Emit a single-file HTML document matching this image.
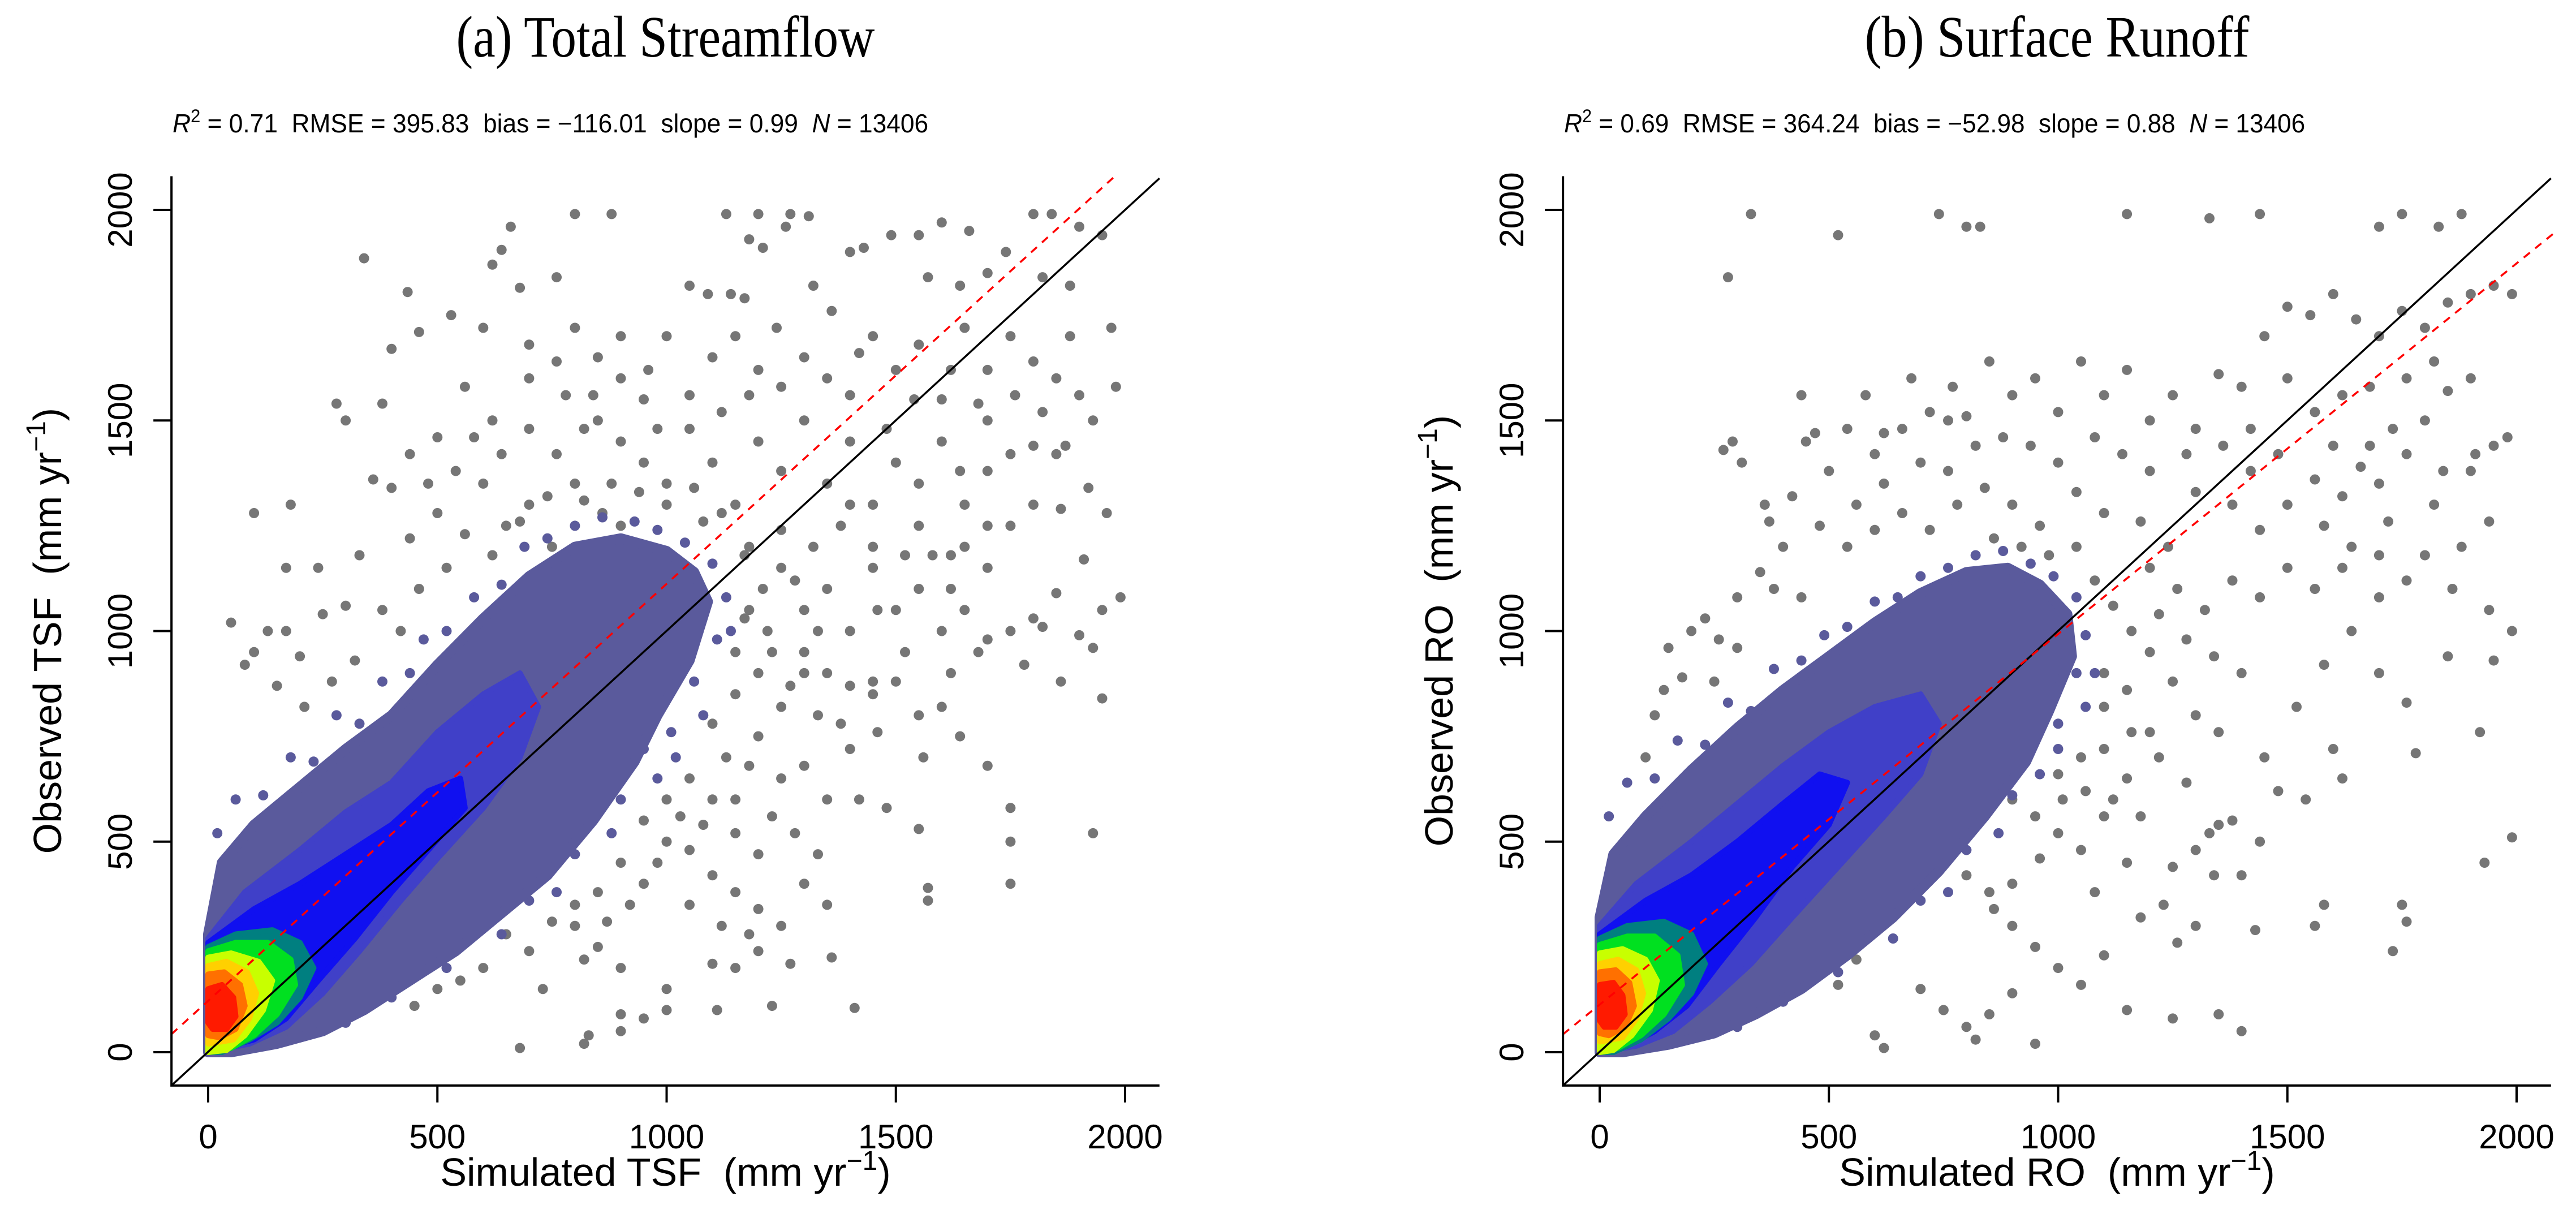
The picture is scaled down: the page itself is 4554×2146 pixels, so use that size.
<!DOCTYPE html>
<html><head><meta charset="utf-8"><style>
html,body{margin:0;padding:0;background:#fff;}
svg{display:block;}
text{font-family:"Liberation Sans",sans-serif;fill:#000;}
.serif{font-family:"Liberation Serif",serif;}
</style></head><body>
<svg id="chart" xmlns="http://www.w3.org/2000/svg" width="4554" height="2146" viewBox="0 0 4554 2146">
<rect width="4554" height="2146" fill="#fff"/>
</svg>
<script>
// ---------- data ----------
const tickValues = [0, 500, 1000, 1500, 2000];
const tickLabels = ["0", "500", "1000", "1500", "2000"];
const panelTitles = ["(a) Total Streamflow", "(b) Surface Runoff"];
const panelVars = ["TSF", "RO"];
const statR2 = ["0.71", "0.69"];
const statRMSE = ["395.83", "364.24"];
const statBias = ["\u2212116.01", "\u221252.98"];
const statSlope = ["0.99", "0.88"];
const statN = ["13406", "13406"];
const fitIntercept = [122, 113];
const fitSlope = [0.99, 0.88];

const cloudColors = ["#5a5a9c", "#4040c8", "#1010f0", "#007f80", "#00e020", "#c8ff00", "#ffd000", "#ff7000", "#ff1a00"];
const cloudA = [
 [[0,280],[30,450],[100,540],[200,630],[300,720],[400,800],[500,920],[600,1030],[700,1130],[800,1200],[900,1220],[1000,1190],[1060,1140],[1090,1070],[1050,930],[980,800],[930,690],[840,550],[740,420],[640,330],[540,240],[440,170],[340,100],[250,50],[150,20],[50,0],[0,0]],
 [[0,270],[80,380],[200,480],[300,570],[400,640],[500,760],[600,850],[680,900],[720,820],[680,700],[600,580],[500,460],[420,360],[330,240],[250,140],[170,60],[90,20],[0,0]],
 [[0,260],[100,340],[200,400],[300,470],[400,540],[480,620],[550,650],[560,580],[480,480],[400,380],[320,270],[240,170],[170,80],[100,30],[0,0]],
 [[0,250],[60,280],[140,290],[200,260],[230,200],[200,130],[150,70],[90,30],[30,0],[0,0]],
 [[0,240],[60,260],[130,260],[180,220],[190,160],[150,90],[100,40],[50,10],[0,0]],
 [[0,225],[50,235],[110,215],[140,170],[120,100],[80,40],[40,5],[0,0]],
 [[0,205],[40,215],[85,190],[105,140],[90,80],[55,30],[0,20]],
 [[0,185],[35,190],[70,160],[80,110],[60,55],[25,35],[0,40]],
 [[0,150],[30,160],[55,130],[60,85],[40,55],[10,55],[0,70]]
];
const cloudB = [
 [[0,320],[30,470],[100,560],[200,670],[300,770],[400,860],[500,940],[600,1020],[700,1090],[800,1140],[890,1150],[960,1110],[1020,1040],[1030,940],[980,810],[930,690],[840,560],[740,430],[640,320],[540,230],[440,150],[340,90],[250,45],[150,18],[50,0],[0,0]],
 [[0,300],[80,400],[200,500],[300,590],[400,680],[500,760],[600,820],[700,850],[740,780],[700,660],[620,560],[520,440],[420,320],[330,210],[240,120],[160,50],[80,15],[0,0]],
 [[0,280],[100,360],[200,420],[300,500],[400,590],[480,660],[540,640],[500,540],[420,440],[340,320],[260,210],[190,110],[120,50],[60,15],[0,0]],
 [[0,270],[60,300],[140,310],[200,280],[230,210],[200,140],[150,80],[90,30],[30,0],[0,0]],
 [[0,255],[60,275],[120,275],[170,230],[180,160],[140,90],[90,40],[40,10],[0,0]],
 [[0,235],[50,245],[100,220],[125,170],[110,100],[70,40],[30,5],[0,0]],
 [[0,210],[40,220],[80,195],[95,140],[80,80],[50,35],[0,25]],
 [[0,190],[35,195],[65,165],[75,110],[55,60],[20,40],[0,45]],
 [[0,160],[30,165],[50,135],[55,90],[35,60],[10,60],[0,75]]
];

// slate-coloured fringe points of the dense cloud [sim, obs]
const fringeA = [[20,520],[60,600],[120,610],[180,700],[230,690],[280,800],[330,780],[380,880],[440,900],[470,980],[520,1000],[580,1080],[640,1110],[690,1200],[740,1220],[800,1250],[860,1270],[930,1260],[980,1240],[1040,1210],[1100,1160],[1130,1080],[1110,980],[1060,880],[1010,760],[980,650],[900,600],[880,520],[800,470],[760,380],[700,360],[640,280],[580,280],[520,200],[460,210],[400,130],[340,140],[300,70],[240,90],[200,40],[150,60],[950,720],[1020,700],[1080,800],[900,950],[850,1100],[760,1000],[620,900],[550,820],[700,1050],[1140,1000],[1000,1000],[950,1150],[430,760],[260,640]];
const fringeB = [[20,560],[60,640],[120,650],[170,740],[230,730],[280,830],[330,810],[380,910],[440,930],[490,990],[540,1010],[600,1070],[650,1080],[700,1130],[760,1150],[820,1180],[880,1190],[940,1160],[990,1130],[1040,1080],[1060,990],[1040,900],[1000,780],[960,660],[900,610],[870,520],[800,480],[760,380],[700,360],[640,270],[580,270],[520,190],[460,200],[400,120],[340,130],[300,60],[240,80],[200,35],[150,55],[940,720],[1000,720],[1060,820],[880,950],[820,1080],[740,1000],[600,900],[540,850],[680,1040],[1080,900],[990,980],[920,1080],[420,780],[250,660]];

const greyA = [[340,1885],[435,1805],[660,1960],[640,1905],[620,1870],[680,1815],[760,1840],[800,1990],[880,1990],[1130,1990],[1200,1990],[1270,1990],[1310,1985],[1260,1960],[1180,1930],[1210,1910],[1050,1820],[1090,1800],[1140,1800],[1170,1790],[1320,1820],[1400,1900],[1430,1910],[1490,1940],[1550,1940],[1600,1970],[1660,1950],[1740,1900],[1800,1990],[1840,1990],[1900,1960],[1950,1940],[1880,1820],[1820,1840],[1700,1850],[1640,1820],[1570,1840],
[530,1750],[600,1720],[700,1680],[560,1580],[460,1710],[380,1540],[400,1670],[500,1460],[620,1500],[700,1600],[780,1560],[800,1720],[850,1650],[900,1600],[950,1550],[1000,1700],[1050,1560],[1100,1650],[1150,1700],[1200,1620],[1250,1580],[1300,1650],[1350,1600],[1400,1560],[1450,1700],[1500,1620],[1550,1680],[1600,1550],[1650,1720],[1700,1620],[1750,1700],[1800,1640],[1850,1600],[1900,1560],[1970,1720],[1980,1580],[1930,1500],[1870,1440],
[850,1500],[900,1450],[950,1400],[1000,1350],[1050,1480],[1100,1400],[1150,1300],[1200,1450],[1250,1380],[1300,1500],[1350,1350],[1400,1450],[1450,1300],[1500,1400],[1550,1350],[1600,1450],[1650,1300],[1700,1380],[1750,1250],[1800,1300],[1850,1420],[1750,1420],[1650,1200],[1550,1250],[1450,1200],[1400,1300],
[300,1500],[280,1540],[100,1280],[180,1300],[170,1150],[330,1180],[400,1340],[480,1350],[440,1220],[600,1350],[650,1250],[700,1300],[750,1200],[800,1350],[860,1280],[900,1250],[760,1420],[820,1480],[980,1480],[1080,1260],[1180,1200],
[100,950],[130,1000],[80,920],[50,1020],[200,940],[250,1040],[170,1000],[320,930],[270,880],[210,820],[150,870],
[1250,1150],[1300,1050],[1350,1100],[1400,1000],[1450,1150],[1500,1050],[1550,1100],[1600,1000],[1650,1050],[1700,1150],[1750,1000],[1800,1030],[1850,1090],[1900,990],[1950,1050],[1990,1080],[1300,950],[1350,900],[1400,870],[1450,850],[1500,880],[1550,800],[1600,820],[1620,900],[1700,980],[1200,900],[1250,820],[1300,900],[1150,850],[1200,750],[1250,650],[1100,780],[1100,600],[1150,600],[1300,680],[1350,600],[1400,720],[1450,880],[1480,580],[1550,530],[1750,580],[1750,500],[1750,400],[1570,390],[1570,360],[1930,520],[1950,840],[1930,960],[1910,1170],[1820,1010],[1180,1050],[1220,1000],[1320,1200],[1380,1250],[1150,950],
[1000,500],[1050,480],[1100,420],[1150,380],[1200,340],[1250,300],[1300,400],[1350,350],[1050,350],[950,400],[900,450],[850,380],[800,350],[850,250],[900,200],[1000,150],[1100,210],[1150,200],[1200,240],[1270,210],[1230,110],[1000,100],[950,80],[820,220],[830,40],[820,20],[680,10],[1360,225],[1410,105],[1110,100],[900,90],[730,150],[700,240],[600,200],[500,150],[550,170],[650,280],[750,310],[800,300],[450,110],[900,50],[1000,600],[1050,650],[950,550],
[560,1230],[620,1180],[680,1260],[740,1320],[820,1310],[880,1350],[940,1330],[1000,1300],[1060,1340],[1120,1280],[1170,1180],[1210,1100],[1250,1240],[1280,1120],[1330,1000],[1170,1030],[1230,950],[1270,870],[1330,800],[1380,780],[1130,700],[1180,680],[1230,560],[1280,520],[1200,470],[1150,520],[1080,540],[1030,560],[980,450],[920,350],[870,310],[1120,300],[1180,280],[1330,470],[1420,600],[1460,760],[1520,950],[1580,1180],[1640,1380],[1700,1500],[1760,1560],[1820,1520],[1880,1700],[1420,1660],[1360,1760],[1240,1720],[1180,1560],[1120,1520],[960,1620],[900,1700],[840,1560],[760,1640],[700,1480],[640,1420],[580,1460],[540,1380],[500,1280],[440,1420],[360,1360],[240,1150],[300,1060],[380,1050],[420,1000],[460,1100],[520,1150],[1480,1480],[1540,1550],[1620,1620],[1680,1540],[1800,1440],[1860,1290],[1920,1340],[1960,1280],[1700,1250],[1620,1180],[1520,1180],[1460,1050],[1620,1100],[1680,950],[1780,920],[1860,880],[1560,700],[1640,750],[1700,680]];

const greyB = [[280,1840],[330,1990],[520,1940],[740,1990],[800,1960],[830,1960],[1150,1990],[1330,1980],[1440,1990],[1750,1990],[1700,1960],[1830,1960],[1880,1990],
[290,1450],[310,1400],[270,1430],[370,1260],[450,1450],[470,1470],[580,1560],[620,1470],[680,1600],[720,1520],[770,1580],[800,1510],[850,1640],[900,1560],[950,1600],[1000,1520],[1050,1640],[1100,1560],[1150,1620],[1200,1500],[1250,1560],[1300,1480],[1350,1610],[1400,1580],[1450,1700],[1500,1770],[1550,1750],[1600,1800],[1650,1740],[1700,1700],[1750,1760],[1800,1720],[1850,1780],[1900,1800],[1950,1820],[1990,1800],[1500,1600],[1560,1520],[1620,1560],[1680,1580],[1730,1480],[1800,1500],[1850,1570],[1910,1420],[1950,1440],[1600,1440],[1660,1390],[1700,1350],[1760,1420],[1840,1380],[1900,1380],[1980,1460],
[400,1200],[480,1250],[560,1300],[620,1350],[700,1400],[760,1380],[840,1340],[900,1300],[960,1250],[1040,1330],[1100,1280],[1180,1260],[1240,1200],[1300,1330],[1380,1300],[1440,1240],[1500,1300],[1580,1250],[1640,1200],[1720,1260],[1800,1180],[1860,1100],[1940,1050],[1990,1000],[1560,1100],[1620,1150],[1700,1080],[1760,1120],[1500,1150],[1440,1080],[1380,1120],[1320,1050],[1260,1100],[1200,1150],
[200,1000],[230,1030],[260,980],[150,960],[300,1080],[350,1140],[180,890],[120,800],[100,700],[140,860],
[1100,900],[1150,860],[1200,950],[1250,880],[1300,800],[1350,760],[1400,900],[1450,700],[1200,760],[1100,720],[1150,650],[1050,700],[1000,660],[1700,900],[1850,940],[1950,930],[1600,720],[1620,650],[1760,830],[1920,760],[1380,550],[1330,520],[1780,710],
[900,600],[950,560],[1000,520],[1050,480],[1100,560],[1150,450],[1250,440],[1300,480],[1350,540],[1400,420],[1230,350],[1300,300],[1430,290],[1540,600],[1580,350],[1560,300],[1750,350],[1760,310],[1730,240],[1930,450],[1990,510],
[650,450],[700,400],[800,420],[850,380],[900,300],[950,250],[1000,200],[1050,160],[1100,230],[1150,100],[1250,80],[1350,90],[1400,50],[700,150],[750,100],[800,60],[820,30],[850,90],[900,140],[950,20],[600,40],[620,10],[520,160],[560,220],[450,190],[400,250],
[420,1320],[500,1380],[540,1200],[600,1240],[660,1280],[720,1240],[780,1300],[860,1220],[920,1200],[980,1180],[1040,1200],[1080,1120],[1120,1060],[1160,1000],[1220,1040],[1280,980],[1340,940],[1100,820],[1160,760],[1220,700],[1280,640],[1060,620],[1120,600],[1180,560],[1010,600],[960,460],[900,400],[860,340],[1080,380],[1180,320],[1260,260],[1340,420],[1440,500],[1480,620],[1520,820],[1580,920],[1640,1000],[1700,1180],[1820,1300],[1880,1200],[1940,1260],[1420,1380],[1360,1440],[1280,1420],[1200,1380],[1140,1420],[1080,1460],[1000,1400],[940,1440],[880,1460],[820,1440],[760,1500],[660,1480],[600,1420],[540,1480],[440,1560],[360,1300],[380,1100],[440,1080],[300,960],[250,880],[1900,1600],[1820,1640],[1760,1600],[1680,1440],[1620,1320],[1560,1360],[1480,1420],[1420,1480]];

// ---------- drawing ----------
const NS = "http://www.w3.org/2000/svg";
const svg = document.getElementById("chart");
const X0 = 368, KX = 0.8105, Y0 = 1860, KY = 0.7445, PANEL_DX = 2460;
function sx(v, p){ return X0 + p*PANEL_DX + v*KX; }
function sy(v){ return Y0 - v*KY; }
function mk(tag, attrs, parent){
  const e = document.createElementNS(NS, tag);
  for (const k in attrs) e.setAttribute(k, attrs[k]);
  (parent || svg).appendChild(e);
  return e;
}

function drawPoints(parent, pts, p, color, name){
  const gg = mk("g", {fill: color}, parent);
  
  
  pts.forEach(d => {
    const c = mk("circle", {cx: sx(d[0], p).toFixed(1), cy: sy(d[1]).toFixed(1), r: 9}, gg);
    
    
  });
}

function drawPanel(p, cloud, grey, fringe){
  const g = mk("g", {});
  
  
  const left = sx(-80, p), right = sx(2075, p), bottom = sy(-79), top = sy(2080);

  drawPoints(g, grey, p, "#767676", 'sparse-points');
  drawPoints(g, fringe, p, cloudColors[0], 'cloud-fringe-points');
  cloud.forEach((poly, i) => {
    const pts = poly.map(d => sx(d[0], p).toFixed(1) + "," + sy(d[1]).toFixed(1)).join(" ");
    const pg = mk("polygon", {points: pts, fill: cloudColors[i], stroke: cloudColors[i], "stroke-width": i === 0 ? 18 : 10, "stroke-linejoin": "round"}, g);
    
    
  });

  const l1 = mk("line", {x1: left, y1: bottom, x2: right, y2: sy(2075), stroke: "#000", "stroke-width": 3.5}, g);
  
  
  const a = fitIntercept[p], b = fitSlope[p];
  let xe = 2080;
  if (a + b*xe > 2080) xe = (2080 - a)/b;
  const l2 = mk("line", {x1: left, y1: sy(a + b*(-80)), x2: sx(xe, p), y2: sy(a + b*xe), stroke: "#ff0000", "stroke-width": 3.5, "stroke-dasharray": "14 12"}, g);
  
  

  const ax = mk("path", {d: `M${left},${top} L${left},${bottom} L${right},${bottom}`, fill: "none", stroke: "#000", "stroke-width": 4}, g);
  
  
  tickValues.forEach((v, i) => {
    const tx = mk("line", {x1: sx(v, p), y1: bottom, x2: sx(v, p), y2: bottom + 30, stroke: "#000", "stroke-width": 4}, g);
    
    
    const lx = mk("text", {x: sx(v, p), y: 2030, "text-anchor": "middle", "font-size": 60}, g);
    lx.textContent = tickLabels[i];
    
    
    const ty = mk("line", {x1: left - 32, y1: sy(v), x2: left, y2: sy(v), stroke: "#000", "stroke-width": 4}, g);
    
    
    const yx = 233 + p*PANEL_DX;
    const ly = mk("text", {x: yx, y: sy(v), "text-anchor": "middle", "font-size": 60, transform: `rotate(-90 ${yx} ${sy(v)})`}, g);
    ly.textContent = tickLabels[i];
    
    
  });

  const cx = (left + right)/2;
  const xt = mk("text", {x: cx, y: 2096, "text-anchor": "middle", "font-size": 70}, g);
  
  
  xt.innerHTML = `Simulated ${panelVars[p]}\u00a0 (mm yr<tspan font-size="48" dy="-28">\u22121</tspan><tspan dy="28">)</tspan>`;
  const yxp = 108 + p*PANEL_DX, cy = (sy(-79) + sy(2080))/2;
  const yt = mk("text", {x: yxp, y: cy, "text-anchor": "middle", "font-size": 70, transform: `rotate(-90 ${yxp} ${cy})`}, g);
  
  
  yt.innerHTML = `Observed ${panelVars[p]}\u00a0 (mm yr<tspan font-size="48" dy="-28">\u22121</tspan><tspan dy="28">)</tspan>`;

  const tt = mk("text", {x: cx, y: 100, "text-anchor": "middle", "font-size": 104, class: "serif", textLength: p === 0 ? 740 : 680, lengthAdjust: "spacingAndGlyphs"}, g);
  tt.textContent = panelTitles[p];
  
  

  const st = mk("text", {x: left + 2, y: 234, "font-size": 46, textLength: p === 0 ? 1336 : 1310, lengthAdjust: "spacingAndGlyphs"}, g);
  
  
  st.innerHTML = `<tspan font-style="italic">R</tspan><tspan font-size="32" dy="-18">2</tspan><tspan dy="18"> = ${statR2[p]}\u00a0 RMSE = ${statRMSE[p]}\u00a0 bias = ${statBias[p]}\u00a0 slope = ${statSlope[p]}\u00a0 </tspan><tspan font-style="italic">N</tspan><tspan> = ${statN[p]}</tspan>`;
}
drawPanel(0, cloudA, greyA, fringeA);
drawPanel(1, cloudB, greyB, fringeB);
</script>
</body></html>
